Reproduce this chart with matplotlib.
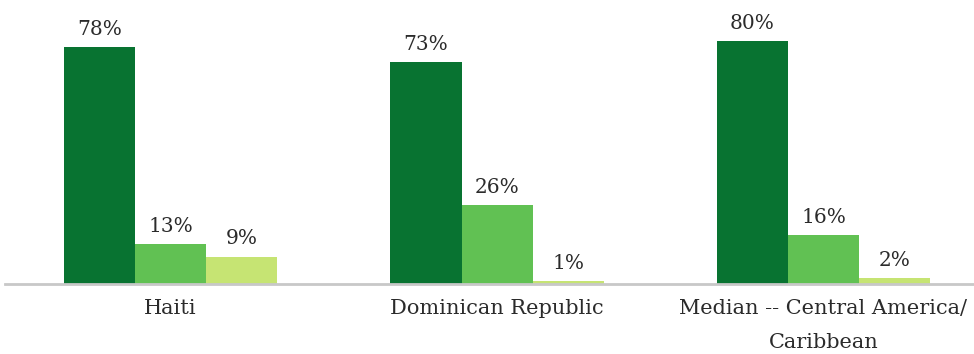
import matplotlib
matplotlib.use("Agg")
import matplotlib.pyplot as plt
import numpy as np

categories = ["Haiti", "Dominican Republic", "Median -- Central America/\nCaribbean"]
series_a = [78, 73, 80]
series_b = [13, 26, 16]
series_c = [9, 1, 2]

colors = ["#087331", "#61c153", "#c6e473"]
font = ["DejaVu Serif"]

fig = plt.figure(figsize=(9.74, 3.54), dpi=100)
ax = fig.add_axes([5 / 974, 70 / 354, 969 / 974, 284 / 354])

x = np.arange(len(categories))
w = 0.2175
for i, (vals, c) in enumerate(zip([series_a, series_b, series_c], colors)):
    pos = x + (i - 1) * w
    ax.bar(pos, vals, width=w, color=c, edgecolor="none")
    for xp, v in zip(pos, vals):
        ax.text(xp, v + 4.0, f"{v}%", ha="center", va="baseline",
                fontsize=14.5, family=font, color="#2b2b2b")

ax.set_xlim(-0.507, 2.461)
ax.set_ylim(0, 93.4)
for s in ["top", "right", "left"]:
    ax.spines[s].set_visible(False)
ax.spines["bottom"].set_color("#c8c8c8")
ax.spines["bottom"].set_linewidth(2)
ax.set_yticks([])
ax.set_xticks(x)
ax.set_xticklabels(categories, family=font, fontsize=15, color="#2b2b2b",
                   linespacing=1.95, va="top")
ax.tick_params(axis="x", length=0, pad=11)

fig.savefig("out.png", dpi=100)
